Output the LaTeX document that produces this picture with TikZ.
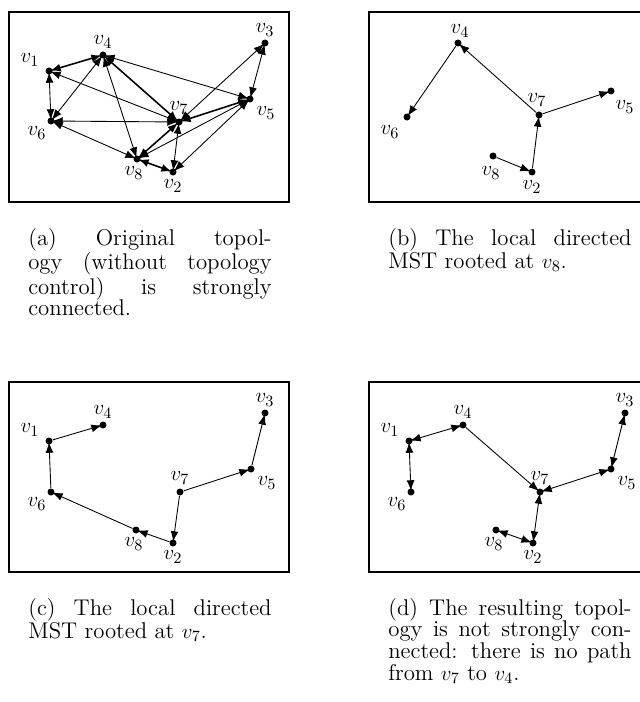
\documentclass[tikz,border=0pt]{standalone}
\usetikzlibrary{arrows.meta}
\newcommand{\capfont}{\fontsize{13}{12.4}\selectfont}
\begin{document}
\begin{tikzpicture}[x=0.5714pt,y=-0.5714pt,
  font=\capfont,
  dot/.style={circle,fill=black,inner sep=0pt,minimum size=4pt},
  lab/.style={inner sep=0pt},
  frame/.style={draw=black,line width=1.1pt},
  edge/.style={line width=0.5pt,-{Latex[length=6pt,width=4.5pt]},shorten >=-1.5pt},
  biedge/.style={line width=0.5pt,{Latex[length=6pt,width=4.5pt]}-{Latex[length=6pt,width=4.5pt]},shorten >=-1.5pt,shorten <=-1.5pt},
  bold/.style={line width=0.9pt},
  capt/.style={anchor=base west,inner sep=0pt}
]
\useasboundingbox (0,0) rectangle (639,702);
% frames
\draw[frame] (9,12) rectangle (289,202);
\draw[frame] (369,12) rectangle (645,202);
\draw[frame] (9,382) rectangle (289,572);
\draw[frame] (369,382) rectangle (645,572);

% ---------- (a)
\node[dot] (a1) at (49,71) {};
\node[dot] (a4) at (103,55) {};
\node[dot] (a3) at (265,43) {};
\node[dot] (a5) at (250,99) {};
\node[dot] (a7) at (179,122) {};
\node[dot] (a6) at (51,121) {};
\node[dot] (a8) at (137,159) {};
\node[dot] (a2) at (173,172) {};
\path (a1) ++(-19,-11) node[lab] (a1l) {$v_1$};
\path (a4) ++(0,-13) node[lab] (a4l) {$v_4$};
\path (a3) ++(0,-13) node[lab] (a3l) {$v_3$};
\path (a5) ++(16,14) node[lab] (a5l) {$v_5$};
\path (a7) ++(0,-14) node[lab] (a7l) {$v_7$};
\path (a6) ++(-14,12) node[lab] (a6l) {$v_6$};
\path (a8) ++(-3,14) node[lab] (a8l) {$v_8$};
\path (a2) ++(0,14) node[lab] (a2l) {$v_2$};
\draw[biedge,bold] (a1) -- (a4);
\draw[biedge] (a1) -- (a6);
\draw[biedge] (a1) -- (a7);
\draw[biedge] (a6) -- (a4);
\draw[biedge] (a6) -- (a7);
\draw[biedge] (a6) -- (a8);
\draw[biedge,bold] (a4) -- (a7);
\draw[biedge] (a4) -- (a8);
\draw[biedge] (a4) -- (a5);
\draw[biedge] (a3) -- (a7);
\draw[biedge] (a3) -- (a5);
\draw[biedge,bold] (a5) -- (a7);
\draw[biedge] (a5) -- (a8);
\draw[biedge] (a5) -- (a2);
\draw[biedge,bold] (a7) -- (a8);
\draw[biedge] (a7) -- (a2);
\draw[biedge,bold] (a8) -- (a2);

% ---------- (b)
\node[dot] (b4) at (458,43) {};
\node[dot] (b6) at (407,117) {};
\node[dot] (b7) at (539,115) {};
\node[dot] (b5) at (611,91) {};
\node[dot] (b8) at (493,156) {};
\node[dot] (b2) at (532,172) {};
\path (b4) ++(2,-12) node[lab] (b4l) {$v_4$};
\path (b6) ++(-17,15) node[lab] (b6l) {$v_6$};
\path (b7) ++(-2,-15) node[lab] (b7l) {$v_7$};
\path (b5) ++(14,16) node[lab] (b5l) {$v_5$};
\path (b8) ++(-2,17) node[lab] (b8l) {$v_8$};
\path (b2) ++(0,15) node[lab] (b2l) {$v_2$};
\draw[edge] (b4) -- (b6);
\draw[edge] (b7) -- (b4);
\draw[edge] (b7) -- (b5);
\draw[edge] (b2) -- (b7);
\draw[edge] (b8) -- (b2);

% ---------- (c)
\node[dot] (c1) at (49,441) {};
\node[dot] (c4) at (103,425) {};
\node[dot] (c3) at (265,413) {};
\node[dot] (c5) at (251,469) {};
\node[dot] (c7) at (180,492) {};
\node[dot] (c6) at (51,492) {};
\node[dot] (c8) at (136,530) {};
\node[dot] (c2) at (173,543) {};
\path (c1) ++(-19,-11) node[lab] (c1l) {$v_1$};
\path (c4) ++(0,-13) node[lab] (c4l) {$v_4$};
\path (c3) ++(0,-13) node[lab] (c3l) {$v_3$};
\path (c5) ++(16,14) node[lab] (c5l) {$v_5$};
\path (c7) ++(0,-14) node[lab] (c7l) {$v_7$};
\path (c6) ++(-14,12) node[lab] (c6l) {$v_6$};
\path (c8) ++(-2,14) node[lab] (c8l) {$v_8$};
\path (c2) ++(0,14) node[lab] (c2l) {$v_2$};
\draw[edge] (c1) -- (c4);
\draw[edge] (c6) -- (c1);
\draw[edge] (c8) -- (c6);
\draw[edge] (c2) -- (c8);
\draw[edge] (c7) -- (c2);
\draw[edge] (c7) -- (c5);
\draw[edge] (c5) -- (c3);

% ---------- (d)
\node[dot] (d1) at (409,441) {};
\node[dot] (d4) at (463,425) {};
\node[dot] (d3) at (625,413) {};
\node[dot] (d5) at (611,469) {};
\node[dot] (d7) at (540,492) {};
\node[dot] (d6) at (411,492) {};
\node[dot] (d8) at (496,530) {};
\node[dot] (d2) at (533,543) {};
\path (d1) ++(-19,-11) node[lab] (d1l) {$v_1$};
\path (d4) ++(0,-13) node[lab] (d4l) {$v_4$};
\path (d3) ++(0,-13) node[lab] (d3l) {$v_3$};
\path (d5) ++(16,14) node[lab] (d5l) {$v_5$};
\path (d7) ++(0,-14) node[lab] (d7l) {$v_7$};
\path (d6) ++(-14,12) node[lab] (d6l) {$v_6$};
\path (d8) ++(-2,14) node[lab] (d8l) {$v_8$};
\path (d2) ++(0,14) node[lab] (d2l) {$v_2$};
\draw[biedge] (d1) -- (d4);
\draw[biedge] (d1) -- (d6);
\draw[edge] (d4) -- (d7);
\draw[biedge] (d7) -- (d5);
\draw[biedge] (d5) -- (d3);
\draw[biedge] (d7) -- (d2);
\draw[biedge] (d8) -- (d2);

% ---------- captions
\node[capt] (capa) at (28,245) {\parbox[t]{139pt}{\capfont\tolerance=10000\hbadness=10000
(a) Original topol-\linebreak ogy (without topology\linebreak control) is strongly\linebreak connected.}};
\node[capt] (capb) at (388,245) {\parbox[t]{139pt}{\capfont\tolerance=10000\hbadness=10000
(b) The local directed\linebreak MST rooted at $v_8$.}};
\node[capt] (capc) at (28,615) {\parbox[t]{139pt}{\capfont\tolerance=10000\hbadness=10000
(c) The local directed\linebreak MST rooted at $v_7$.}};
\node[capt] (capd) at (388,615) {\parbox[t]{139pt}{\capfont\tolerance=10000\hbadness=10000
(d) The resulting topol-\linebreak ogy is not strongly con-\linebreak nected: there is no path\linebreak from $v_7$ to $v_4$.}};
\end{tikzpicture}
\end{document}
